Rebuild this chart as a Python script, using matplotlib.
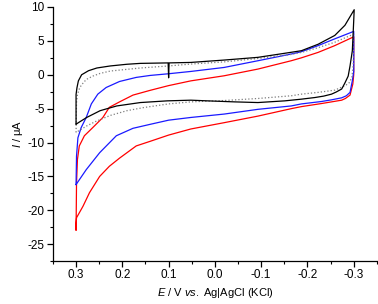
import matplotlib
matplotlib.use("Agg")
import matplotlib.pyplot as plt
from matplotlib.ticker import MultipleLocator

plt.rcParams['font.family'] = ['Liberation Sans', 'DejaVu Sans']
plt.rcParams['mathtext.fontset'] = 'custom'
plt.rcParams['mathtext.it'] = 'Liberation Sans:italic'
plt.rcParams['mathtext.rm'] = 'Liberation Sans'

# cyclic voltammograms, each loop: upper branch 0.3 -> -0.3, lower branch back
black_E = [0.300, 0.300, 0.298, 0.295, 0.288, 0.273, 0.255, 0.226, 0.190, 0.161,
           0.101, 0.100, 0.099, 0.052, -0.020, -0.093, -0.150, -0.187, -0.223,
           -0.259, -0.281, -0.301,
           -0.300, -0.297, -0.292, -0.288, -0.281, -0.274, -0.262, -0.252, -0.235,
           -0.216, -0.187, -0.151, -0.093, -0.042, 0.016, 0.052, 0.103, 0.161,
           0.212, 0.248, 0.277, 0.295, 0.300]
black_I = [-7.2, -2.9, -1.9, -0.9, 0.0, 0.6, 1.0, 1.3, 1.55, 1.68,
           1.75, -0.45, 1.75, 1.82, 2.17, 2.57, 3.16, 3.55, 4.5,
           5.8, 7.3, 9.6,
           8.0, 3.55, 1.3, -0.2, -1.2, -2.1, -2.55, -2.86, -3.15,
           -3.36, -3.6, -3.85, -4.1, -4.0, -3.85, -3.75, -3.85, -4.1,
           -4.6, -5.3, -6.3, -7.07, -7.3]

gray_E = [0.300, 0.299, 0.297, 0.292, 0.287, 0.278, 0.264, 0.248, 0.226, 0.190,
          0.161, 0.100, 0.052, -0.020, -0.093, -0.165, -0.187, -0.223, -0.259,
          -0.300,
          -0.299, -0.296, -0.290, -0.281, -0.259, -0.223, -0.187, -0.165, -0.093,
          -0.020, 0.052, 0.100, 0.154, 0.190, 0.226, 0.258, 0.277, 0.295, 0.300]
gray_I = [-8.5, -4.1, -2.9, -1.9, -1.4, -0.7, -0.2, 0.2, 0.55, 0.8,
          1.0, 1.3, 1.58, 1.9, 2.4, 3.0, 3.3, 4.0, 4.8,
          6.0,
          1.5, -0.4, -1.2, -1.63, -2.27, -2.6, -2.86, -3.1, -3.5,
          -3.8, -4.0, -4.3, -4.84, -5.3, -6.0, -6.9, -7.55, -8.3, -8.55]

blue_E = [0.300, 0.299, 0.296, 0.289, 0.278, 0.267, 0.253, 0.235, 0.206, 0.170,
          0.140, 0.100, 0.052, -0.020, -0.093, -0.165, -0.187, -0.223, -0.259,
          -0.300,
          -0.300, -0.297, -0.292, -0.284, -0.274, -0.252, -0.230, -0.187, -0.165,
          -0.093, -0.020, 0.052, 0.100, 0.139, 0.177, 0.213, 0.249, 0.278, 0.300]
blue_I = [-16.2, -12.0, -9.3, -7.8, -6.3, -4.3, -2.86, -1.88, -0.99, -0.39,
          -0.1, 0.15, 0.49, 1.08, 2.07, 3.06, 3.4, 4.3, 5.3,
          6.4,
          0.5, -0.89, -2.6, -3.1, -3.4, -3.7, -3.95, -4.3, -4.6,
          -5.1, -5.8, -6.3, -6.7, -7.3, -7.9, -9.0, -11.5, -14.0, -16.2]

red_E = [0.300, 0.299, 0.297, 0.293, 0.282, 0.264, 0.242, 0.228, 0.206, 0.177,
         0.140, 0.100, 0.052, -0.020, -0.093, -0.165, -0.187, -0.223, -0.259,
         -0.300,
         -0.300, -0.298, -0.292, -0.282, -0.274, -0.252, -0.230, -0.187, -0.165,
         -0.093, -0.020, 0.052, 0.100, 0.139, 0.170, 0.206, 0.228, 0.249, 0.271,
         0.285, 0.299, 0.300, 0.300]
red_I = [-22.9, -16.0, -12.5, -10.5, -9.0, -7.8, -6.3, -4.8, -4.0, -3.0,
         -2.3, -1.6, -0.9, -0.15, 0.84, 2.07, 2.5, 3.3, 4.3,
         5.6,
         0.0, -1.38, -3.0, -3.5, -3.75, -4.0, -4.25, -4.7, -5.0,
         -6.1, -7.07, -8.0, -8.9, -9.8, -10.5, -12.3, -13.5, -15.0, -17.4,
         -19.4, -21.1, -22.0, -22.9]

fig = plt.figure(figsize=(3.78, 3.04), dpi=100)
ax = fig.add_axes([0.140, 0.141, 0.857, 0.836])

ax.plot(red_E, red_I, color='#ff0000', lw=0.9)
ax.plot(blue_E, blue_I, color='#1a1aff', lw=0.9)
ax.plot(gray_E, gray_I, color='#7f7f7f', lw=0.9, ls=':')
ax.plot(black_E, black_I, color='#000000', lw=0.9)

ax.set_xlim(0.35, -0.35)
ax.set_ylim(-27.5, 10)
ax.xaxis.set_minor_locator(MultipleLocator(0.05))
ax.yaxis.set_minor_locator(MultipleLocator(2.5))
ax.set_xticks([0.3, 0.2, 0.1, 0.0, -0.1, -0.2, -0.3])
ax.set_xticklabels(['0.3', '0.2', '0.1', '0.0', '-0.1', '-0.2', '-0.3'])
ax.set_yticks([10, 5, 0, -5, -10, -15, -20, -25])
ax.set_yticklabels(['10', '5', '0', '-5', '-10', '-15', '-20', '-25'])

for s in ['top', 'right']:
    ax.spines[s].set_visible(False)
for s in ['left', 'bottom']:
    ax.spines[s].set_linewidth(0.9)
ax.tick_params(which='major', direction='out', length=4, width=0.9, labelsize=8.5, pad=2)
ax.tick_params(which='minor', direction='out', length=2.5, width=0.8)

ax.set_xlabel(r'$\mathit{E}$ / V $\mathit{vs.}$ Ag|AgCl (KCl)', fontsize=8, labelpad=3)
ax.set_ylabel(r'$\mathit{I}$ / μA', fontsize=8, labelpad=2)

fig.savefig('out.png', dpi=100)
